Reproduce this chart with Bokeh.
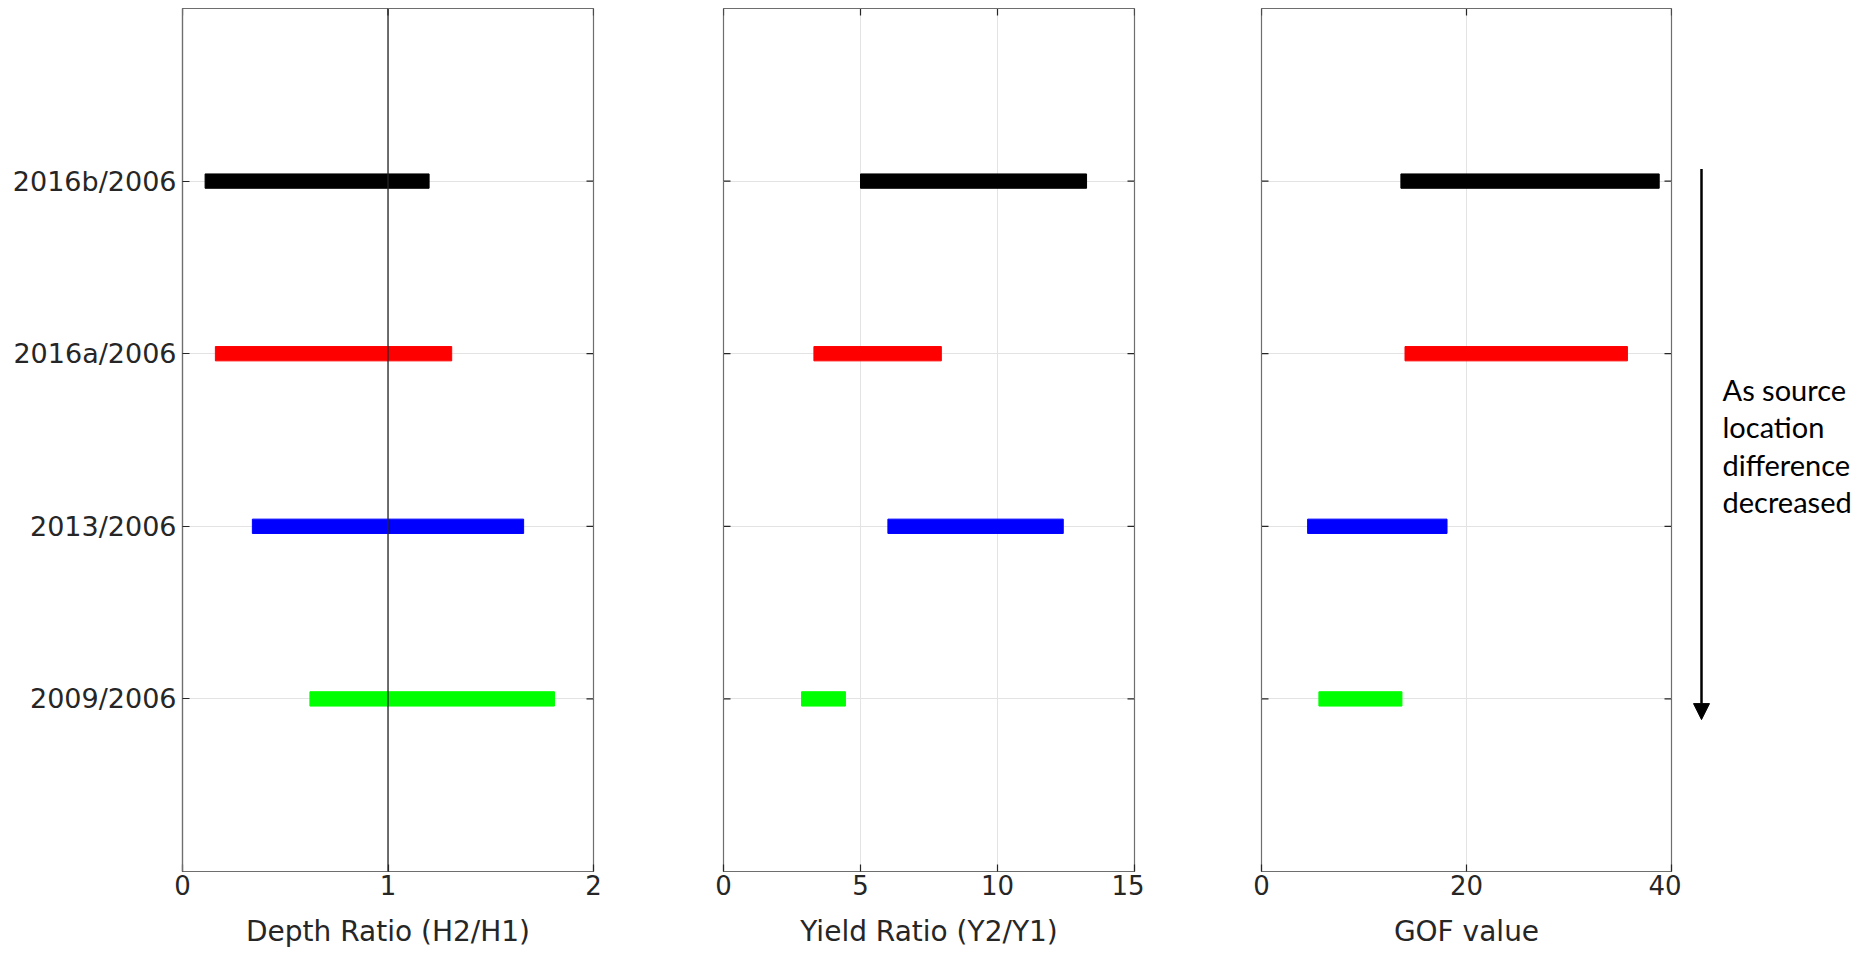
import math
from bokeh.plotting import figure
from bokeh.layouts import row
from bokeh.models import (Range1d, LinearAxis, FixedTicker, Span, Arrow,
                          NormalHead, Label, ColumnDataSource, Grid)
from bokeh.embed import file_html
from bokeh.resources import INLINE

# ---------------- data ----------------
categories = ["2016b/2006", "2016a/2006", "2013/2006", "2009/2006"]
bar_colors = ["#000000", "#ff0000", "#0000ff", "#00ff00"]

depth_low = [0.11, 0.16, 0.34, 0.62]
depth_high = [1.20, 1.31, 1.66, 1.81]

yield_low = [5.0, 3.3, 6.0, 2.85]
yield_high = [13.25, 7.95, 12.4, 4.45]

gof_low = [13.6, 14.0, 4.5, 5.6]
gof_high = [38.8, 35.7, 18.1, 13.7]

depth_ticks = [0, 1, 2]
yield_ticks = [0, 5, 10, 15]
gof_ticks = [0, 20, 40]

depth_label = "Depth Ratio (H2/H1)"
yield_label = "Yield Ratio (Y2/Y1)"
gof_label = "GOF value"
reference_ratio = 1
note_lines = ["As source", "location", "difference", "decreased"]

# positions of categories (top to bottom)
ypos = [len(categories) - i for i in range(len(categories))]
y_ticks = sorted(ypos)
label_map = {y: c for y, c in zip(ypos, categories)}

FONT = "DejaVu Sans"
TXT = "#262626"
FRAME_H = 863
TOP = 8
BOTTOM = 83
TICK = 7


def panel(low, high, ticks, xlabel, frame_w, left_border, show_ylabels):
    y0, y1 = 0, len(categories) + 1
    p = figure(frame_width=frame_w, frame_height=FRAME_H,
               min_border_left=left_border, min_border_right=10,
               min_border_top=TOP, min_border_bottom=BOTTOM,
               x_range=Range1d(ticks[0], ticks[-1]),
               y_range=Range1d(y0, y1),
               output_backend="svg", toolbar_location=None,
               x_axis_location=None, y_axis_location=None)
    p.outline_line_color = "#6e6e6e"
    p.outline_line_width = 1.2
    p.xgrid.visible = False
    p.ygrid.visible = False

    xb = LinearAxis(ticker=FixedTicker(ticks=ticks), axis_label=xlabel)
    axes = [xb]
    if show_ylabels:
        yl = LinearAxis(ticker=FixedTicker(ticks=y_ticks))
        yl.major_label_overrides = label_map
        yl.major_label_text_font_size = "27px"
        yl.major_label_standoff = 6
        axes.append(yl)
    for ax in axes:
        ax.major_tick_in = TICK
        ax.major_tick_out = 0
        ax.minor_tick_in = 0
        ax.minor_tick_out = 0
        ax.major_tick_line_color = TXT
        ax.major_tick_line_width = 1.2
        ax.axis_line_color = "#6e6e6e"
        ax.axis_line_width = 1.2
        ax.major_label_text_font = FONT
        ax.major_label_text_color = TXT
        ax.major_label_text_font_style = "normal"
    xb.major_label_text_font_size = "26px"
    xb.major_label_standoff = 3
    xb.axis_label_text_font = FONT
    xb.axis_label_text_font_size = "28px"
    xb.axis_label_text_font_style = "normal"
    xb.axis_label_text_color = TXT
    xb.axis_label_standoff = 17
    p.add_layout(xb, "below")
    if show_ylabels:
        p.add_layout(axes[1], "left")

    gx = Grid(dimension=0, ticker=FixedTicker(ticks=ticks),
              grid_line_color="#e3e3e3", grid_line_width=1)
    gy = Grid(dimension=1, ticker=FixedTicker(ticks=y_ticks),
              grid_line_color="#e3e3e3", grid_line_width=1)
    p.add_layout(gx, "center")
    p.add_layout(gy, "center")

    src = ColumnDataSource(dict(y=ypos, left=low, right=high, color=bar_colors))
    p.hbar(y="y", left="left", right="right", height=0.083, color="color",
           source=src)

    # mirrored tick marks (top and right; left too when no labelled axis)
    tk = dict(length=TICK, length_units="screen", line_color=TXT,
              line_width=1.2)
    p.ray(x=ticks, y=[y1] * len(ticks), angle=-math.pi / 2, **tk)
    p.ray(x=[ticks[-1]] * len(y_ticks), y=y_ticks, angle=math.pi, **tk)
    if not show_ylabels:
        p.ray(x=[ticks[0]] * len(y_ticks), y=y_ticks, angle=0, **tk)
    return p


p1 = panel(depth_low, depth_high, depth_ticks, depth_label, 411, 182, True)
p1.add_layout(Span(location=reference_ratio, dimension="height",
                   line_color="#262626", line_width=1.3))
p2 = panel(yield_low, yield_high, yield_ticks, yield_label, 411, 120, False)
p3 = panel(gof_low, gof_high, gof_ticks, gof_label, 410, 117, False)

# annotation panel (arrow + note)
ANN_W = 170
p4 = figure(frame_width=ANN_W, frame_height=FRAME_H,
            min_border_left=0, min_border_right=0,
            min_border_top=TOP, min_border_bottom=BOTTOM,
            x_range=Range1d(0, ANN_W), y_range=Range1d(0, len(categories) + 1),
            output_backend="svg", toolbar_location=None,
            x_axis_location=None, y_axis_location=None)
p4.outline_line_color = None
p4.xgrid.visible = False
p4.ygrid.visible = False
p4.add_layout(Arrow(x_start=20, y_start=4.07, x_end=20, y_end=0.88,
                    line_color="black", line_width=2.5,
                    end=NormalHead(size=16, fill_color="black",
                                   line_color="black")))
for i, t in enumerate(note_lines):
    p4.add_layout(Label(x=41, y=2.795 - i * 0.218, text=t,
                        text_font="Lato", text_font_size="29px",
                        text_color="black", text_baseline="alphabetic"))

layout = row(p1, p2, p3, p4)
open("out.html", "w").write(file_html(layout, INLINE))
